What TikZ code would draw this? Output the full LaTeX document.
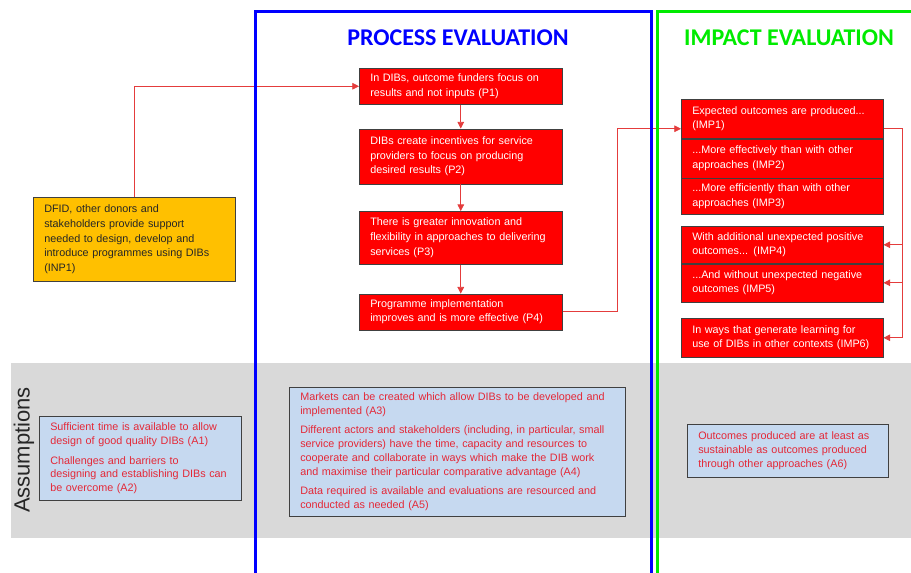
\documentclass[tikz,border=0pt]{standalone}
\usepackage{fontspec}
\setmainfont{Liberation Sans}
\newfontfamily\titlefont{Carlito}
\usetikzlibrary{positioning,arrows.meta}
\definecolor{procblue}{RGB}{0,0,255}
\definecolor{impgreen}{RGB}{0,235,0}
\definecolor{inpyellow}{RGB}{255,192,0}
\definecolor{asmfill}{RGB}{198,217,240}
\definecolor{asmtext}{RGB}{228,40,55}
\definecolor{bandgray}{RGB}{217,217,217}
\definecolor{linkred}{RGB}{228,60,60}
\tikzset{
	box/.style={draw=black!75, anchor=north west, align=left, inner xsep=8.25pt, inner ysep=2pt, font=\fontsize{8.1}{11}\selectfont},
	redbox/.style={box, fill=red, text=white},
	asmbox/.style={box, fill=asmfill, text=asmtext, font=\fontsize{8.1}{10.3}\selectfont},
	link/.style={draw=linkred, line width=0.6pt, -{Triangle[length=5pt,width=5pt]}},
}
\begin{document}
\begin{tikzpicture}[x=0.75pt,y=-0.75pt]
		\useasboundingbox (0,0) rectangle (911,572);
		\fill[bandgray] (11,363) rectangle (911,538);
		\node[rotate=90, font=\fontsize{16.5}{18}\selectfont, text=black!85] (asmlabel) at (24,450) {Assumptions};
		\node[box, fill=inpyellow, text=black!85, text width=135pt, minimum height=63pt] (inp1) at (33,197)
		{DFID, other donors and\\stakeholders provide support\\needed to design, develop and\\introduce programmes using DIBs\\(INP1)};
		\node[redbox, text width=135.75pt, minimum height=27pt] (p1) at (359,68) {In DIBs, outcome funders focus on\\results and not inputs (P1)};
		\node[redbox, text width=135.75pt, minimum height=41.25pt, below=18pt of p1] (p2) {DIBs create incentives for service\\providers to focus on producing\\desired results (P2)};
		\node[redbox, text width=135.75pt, minimum height=39.75pt, below=20.25pt of p2] (p3) {There is greater innovation and\\flexibility in approaches to delivering\\services (P3)};
		\node[redbox, text width=135.75pt, minimum height=27pt, below=21.75pt of p3] (p4) {Programme implementation\\improves and is more effective (P4)};
		\node[redbox, text width=135pt, minimum height=29.25pt] (imp1) at (681,99) {Expected outcomes are produced...\\(IMP1)};
		\node[redbox, text width=135pt, minimum height=29.25pt, below=0pt of imp1] (imp2) {...More effectively than with other\\approaches (IMP2)};
		\node[redbox, text width=135pt, minimum height=27pt, below=0pt of imp2] (imp3) {...More efficiently than with other\\approaches (IMP3)};
		\node[redbox, text width=135pt, minimum height=27.75pt] (imp4) at (681,226) {With additional unexpected positive\\outcomes... (IMP4)};
		\node[redbox, text width=135pt, minimum height=28.5pt, below=0pt of imp4] (imp5) {...And without unexpected negative\\outcomes (IMP5)};
		\node[redbox, text width=135pt, minimum height=29.25pt] (imp6) at (681,318) {In ways that generate learning for\\use of DIBs in other contexts (IMP6)};
		\node[asmbox, text width=135pt, minimum height=63pt] (a1) at (39,416)
		{Sufficient time is available to allow\\design of good quality DIBs (A1)\\[4.5pt]Challenges and barriers to\\designing and establishing DIBs can\\be overcome (A2)};
		\node[asmbox, text width=235.5pt, minimum height=96.75pt] (a3) at (289,387)
		{Markets can be created which allow DIBs to be developed and\\implemented (A3)\\[4.5pt]Different actors and stakeholders (including, in particular, small\\service providers) have the time, capacity and resources to\\cooperate and collaborate in ways which make the DIB work\\and maximise their particular comparative advantage (A4)\\[4.5pt]Data required is available and evaluations are resourced and\\conducted as needed (A5)};
		\node[asmbox, text width=134.25pt, minimum height=39.75pt] (a6) at (687,424)
		{Outcomes produced are at least as\\sustainable as outcomes produced\\through other approaches (A6)};
		\coordinate (pbend) at (617,0);
		\coordinate (ibend) at (902,0);
		\draw[link] (inp1.north) |- (p1.west);
		\draw[link] (p1) -- (p2);
		\draw[link] (p2) -- (p3);
		\draw[link] (p3) -- (p4);
		\draw[link] (p4.east) -- (p4.east -| pbend) |- ([yshift=-7.5pt]imp1.west);
		\draw[link, -] ([yshift=-7pt]imp1.east) -- ([yshift=-7pt]imp1.east -| ibend) -- (imp6.east -| ibend);
		\foreach \n in {imp4,imp5,imp6}
			\draw[link] (\n.east -| ibend) -- (\n.east);
		\draw[procblue, line width=2.25pt] (255,580) -- (255,11) -- (651,11) -- (651,580);
		\draw[impgreen, line width=2.25pt] (657,580) -- (657,11) -- (920,11);
		\node[text=procblue, font=\titlefont\bfseries\fontsize{18}{20}\selectfont] (proctitle) at (458,38) {PROCESS EVALUATION};
		\node[text=impgreen, font=\titlefont\bfseries\fontsize{18}{20}\selectfont] (imptitle) at (789,38) {IMPACT EVALUATION};
\end{tikzpicture}
\end{document}
